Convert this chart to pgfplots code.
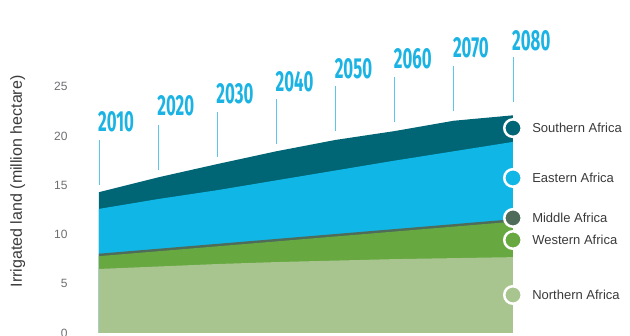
\documentclass[border=0pt]{standalone}
\usepackage{fontspec}
\setmainfont{Liberation Sans}
\newfontfamily\yearfont[FakeStretch=0.58]{Fira Sans}
\usepackage{pgfplots}
\pgfplotsset{compat=1.18}
\definecolor{cS}{HTML}{006574}
\definecolor{cE}{HTML}{10B6E6}
\definecolor{cM}{HTML}{4F6B5A}
\definecolor{cW}{HTML}{67A841}
\definecolor{cN}{HTML}{A9C58F}
\definecolor{yearcyan}{HTML}{1AB3E3}
\definecolor{yearline}{HTML}{5BC5EA}
\definecolor{tickgray}{HTML}{6D6E71}
\definecolor{labgray}{HTML}{3A3A3A}
\begin{document}
\begin{tikzpicture}[x=1pt,y=1pt]
\begin{axis}[
  at={(99pt,3pt)}, anchor=south west,
  scale only axis, width=414pt, height=246.25pt,
  xmin=2010, xmax=2080, ymin=0, ymax=25,
  clip=false,
  axis line style={draw=none},
  xtick=\empty,
  ytick={0,5,10,15,20,25},
  major tick length=0pt,
  /pgf/number format/assume math mode=true,
  yticklabel style={font=\fontsize{12}{14}\selectfont, text=tickgray, xshift=-28pt},
  ylabel={Irrigated land (million hectare)},
  every axis y label/.style={at={(axis description cs:-0.196,0.616)}, rotate=90, anchor=center, font=\fontsize{16}{18}\selectfont, text=labgray},
]
% cumulative tops, painted back to front
\addplot[fill=cS, draw=none] coordinates {(2010,14.3) (2020,15.8) (2030,17.15) (2040,18.45) (2050,19.6) (2060,20.5) (2070,21.55) (2080,22.1)} \closedcycle;
\addplot[fill=cE, draw=none] coordinates {(2010,12.6) (2020,13.6) (2030,14.5) (2040,15.5) (2050,16.5) (2060,17.5) (2070,18.45) (2080,19.4)} \closedcycle;
\addplot[fill=cM, draw=none] coordinates {(2010,8.05) (2020,8.55) (2030,9.05) (2040,9.55) (2050,10.05) (2060,10.55) (2070,11.05) (2080,11.55)} \closedcycle;
\addplot[fill=cW, draw=none] coordinates {(2010,7.8) (2020,8.3) (2030,8.8) (2040,9.3) (2050,9.8) (2060,10.3) (2070,10.8) (2080,11.3)} \closedcycle;
\addplot[fill=cN, draw=none] coordinates {(2010,6.5) (2020,6.75) (2030,7.0) (2040,7.2) (2050,7.35) (2060,7.5) (2070,7.6) (2080,7.7)} \closedcycle;
% year marker lines
\addplot[draw=yearline, line width=0.9pt, unbounded coords=jump] coordinates {
 (2010,15.03) (2010,19.6) (2010,nan)
 (2020,16.55) (2020,21.12) (2020,nan)
 (2030,17.9) (2030,22.47) (2030,nan)
 (2040,19.19) (2040,23.76) (2040,nan)
 (2050,20.5) (2050,25.07) (2050,nan)
 (2060,21.45) (2060,26.02) (2060,nan)
 (2070,22.57) (2070,27.14) (2070,nan)
 (2080,23.48) (2080,28.05)};
% year labels
\addplot[draw=none, mark=none, nodes near coords, point meta=explicit symbolic,
  every node near coord/.append style={anchor=west, inner sep=0pt, xshift=-1pt, font=\yearfont\bfseries\fontsize{29}{29}\selectfont, text=yearcyan}]
  coordinates {(2010,21.47)[2010] (2020,23.05)[2020] (2030,24.26)[2030] (2040,25.55)[2040] (2050,26.87)[2050] (2060,27.82)[2060] (2070,28.91)[2070] (2080,29.64)[2080]};
% legend markers
\pgfplotsset{legmark/.style={only marks, mark=*, mark size=8.75pt, mark options={draw=white, line width=2.5pt, fill=#1}, nodes near coords, point meta=explicit symbolic, every node near coord/.append style={anchor=west, xshift=14.7pt, font=\fontsize{13}{15}\selectfont, text=labgray}}}
\addplot[legmark=cS] coordinates {(2080,20.8)[Southern Africa]};
\addplot[legmark=cE] coordinates {(2080,15.74)[Eastern Africa]};
\addplot[legmark=cM] coordinates {(2080,11.68)[Middle Africa]};
\addplot[legmark=cW] coordinates {(2080,9.44)[Western Africa]};
\addplot[legmark=cN] coordinates {(2080,3.86)[Northern Africa]};
\end{axis}
\pgfresetboundingbox
\path[use as bounding box] (0,0) rectangle (630pt,336pt);
\end{tikzpicture}
\end{document}
